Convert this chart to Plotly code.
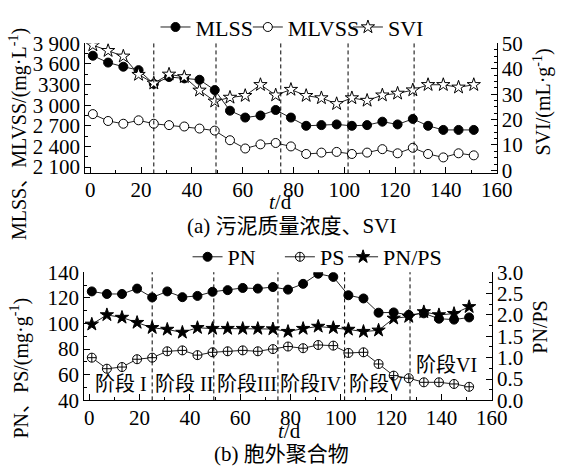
import plotly.graph_objects as go

# ---------------- data ----------------
days = [1, 7, 13, 19, 25, 31, 37, 43, 49, 55, 61, 67, 73, 79, 85, 91, 97, 103,
        109, 115, 121, 127, 133, 139, 145, 151]
mlss = [3720, 3620, 3560, 3510, 3310, 3410, 3390, 3370, 3220, 2920, 2820, 2850,
        2930, 2820, 2700, 2710, 2720, 2700, 2710, 2760, 2720, 2800, 2700, 2640,
        2640, 2640]
mlvss = [2870, 2770, 2730, 2780, 2730, 2710, 2690, 2660, 2630, 2490, 2370, 2430,
         2450, 2400, 2290, 2310, 2320, 2290, 2310, 2360, 2300, 2380, 2290, 2240,
         2300, 2270]
svi = [49.3, 47.1, 44.9, 37.7, 34.3, 37.8, 36.8, 31.5, 27.2, 28.7, 29.4, 33.7,
       29.6, 31.8, 29.4, 28.5, 26.2, 28.5, 27.5, 29.6, 30.3, 31.6, 33.7, 33.7,
       32.7, 33.7]
pn = [125, 123, 123, 127.2, 120.3, 125, 120.5, 121.5, 124.7, 126, 127.7, 127.2,
      128.4, 126.4, 130.9, 138.8, 136.3, 122, 119.5, 108.4, 108.6, 106.7, 107.9,
      103.7, 103, 104.7]
ps = [73.3, 64.7, 66, 72.1, 73.3, 78.3, 79, 75.3, 77.5, 78.3, 79, 78.3, 80, 82,
      80.7, 83.2, 82.7, 77, 77.5, 68.4, 59.3, 57.3, 54.1, 54.1, 52.8, 50.6]
pn_ps = [1.78, 2.0, 1.94, 1.82, 1.70, 1.66, 1.59, 1.70, 1.68, 1.68, 1.68, 1.68,
         1.67, 1.61, 1.68, 1.73, 1.70, 1.66, 1.61, 1.64, 1.92, 1.96, 2.07, 2.0,
         2.03, 2.19]
phase_bounds = [25, 49.5, 75, 101.5, 127.5]
phase_names = ["阶段 I", "阶段 II", "阶段III", "阶段IV", "阶段V", "阶段VI"]
phase_x = [12.6, 37.8, 62.6, 88.2, 114.2, 142]
phase_y = [52.6, 52.6, 52.6, 52.6, 52.6, 67.4]
left_top_ticks = [2100, 2400, 2700, 3000, 3300, 3600, 3900]
left_top_text = ["2 100", "2 400", "2 700", "3 000", "3300", "3 600", "3 900"]

FONT = "Liberation Serif, Noto Sans CJK SC"
FS = 20
TFS = 21
LFS = 22
LC = "#222222"
W, H = 569, 476

fig = go.Figure()

def tr(x, y, name, sym, fill, xa, ya, legend, size):
    fig.add_trace(go.Scatter(
        x=x, y=y, name=name, mode="lines+markers", xaxis=xa, yaxis=ya,
        line=dict(color=LC, width=1),
        marker=dict(symbol=sym, size=size, color=fill,
                    line=dict(color="black", width=1)),
        legend=legend, showlegend=True))

tr(days, mlss, "MLSS", "circle", "black", "x", "y", "legend", 9)
tr(days, mlvss, "MLVSS", "circle", "white", "x", "y", "legend2", 9)
tr(days, svi, "SVI", "star", "white", "x", "y2", "legend3", 10)
tr(days, pn, "PN", "circle", "black", "x2", "y3", "legend4", 9)
tr(days, ps, "PS", "circle-cross", "white", "x2", "y3", "legend5", 9)
tr(days, pn_ps, "PN/PS", "star", "black", "x2", "y4", "legend6", 10)

axcommon = dict(showline=True, linecolor="black", linewidth=1, ticks="inside",
                ticklen=6, tickcolor="black", showgrid=False, zeroline=False,
                tickfont=dict(family=FONT, size=TFS, color="black"))

def xd(a, b):
    return [a / W, b / W]
def yd(top, bot):
    return [(H - bot) / H, (H - top) / H]
def minor(d):
    return dict(ticks="inside", ticklen=3, dtick=d, tickcolor="black")

def leg(xtext, yc):
    return dict(orientation="h", x=(xtext - 37) / W, xanchor="left",
                y=1 - yc / H, yanchor="middle",
                font=dict(family=FONT, size=LFS, color="black"),
                bgcolor="rgba(0,0,0,0)", borderwidth=0, itemwidth=30)

fig.update_layout(
    width=W, height=H, margin=dict(l=0, r=0, t=0, b=0),
    plot_bgcolor="white", paper_bgcolor="white", showlegend=True,
    font=dict(family=FONT, size=FS, color="black"),
    xaxis=dict(domain=xd(87.7, 511), range=[-2, 160], anchor="y", dtick=20,
               minor=minor(10), ticklabelstandoff=-3, **axcommon),
    yaxis=dict(domain=yd(33, 170), range=[2007, 3900], anchor="x",
               tickvals=left_top_ticks, ticktext=left_top_text,
               minor=minor(150), **axcommon),
    yaxis2=dict(range=[-1.2, 50], overlaying="y", side="right", anchor="x",
                dtick=10, minor=minor(2.5), **axcommon),
    xaxis2=dict(domain=xd(86.7, 506), range=[-2, 160], anchor="y3", dtick=20,
                minor=minor(10), ticklabelstandoff=-2, **axcommon),
    yaxis3=dict(domain=yd(274, 409), range=[40, 140], anchor="x2", dtick=20,
                minor=minor(10), **axcommon),
    yaxis4=dict(range=[0, 3.0], overlaying="y3", side="right", anchor="x2",
                dtick=0.5, tickformat=".1f", minor=minor(0.25), **axcommon),
    legend=leg(197, 16),
    legend2=leg(292, 16),
    legend3=leg(395, 16),
    legend4=leg(230, 258),
    legend5=leg(325, 258),
    legend6=leg(390, 258),
)

# dashed phase boundaries
for b in phase_bounds:
    fig.add_shape(type="line", xref="x", yref="y domain", x0=b, x1=b, y0=0, y1=1,
                  line=dict(color="black", width=1, dash="4px,3px"))
    fig.add_shape(type="line", xref="x2", yref="y3 domain", x0=b, x1=b, y0=0, y1=1,
                  line=dict(color="black", width=1, dash="4px,3px"))

# phase labels
for name, px, py in zip(phase_names, phase_x, phase_y):
    fig.add_annotation(x=px, y=py, xref="x2", yref="y3", text=name, showarrow=False,
                       font=dict(family=FONT, size=FS, color="black"))

def ann(text, x, y, angle=0, size=FS):
    fig.add_annotation(x=x / W, y=1 - y / H, xref="paper", yref="paper", text=text,
                       showarrow=False, textangle=angle,
                       font=dict(family=FONT, size=size, color="black"),
                       xanchor="center", yanchor="middle")

ann("<i>t</i>/d", 289, 200, size=TFS)
ann("(a) 污泥质量浓度、SVI", 300, 225, size=21)
ann("<i>t</i>/d", 298, 441, size=TFS)
ann("(b) 胞外聚合物", 290, 465, size=21)
ann("MLSS、MLVSS/(mg·L<sup>-1</sup>)", 19, 128, -90)
ann("SVI/(mL·g<sup>-1</sup>)", 558, 95, -90)
ann("PN、PS/(mg·g<sup>-1</sup>)", 20, 375, -90)
ann("PN/PS", 556, 332, -90)

fig.write_html("out.html")
